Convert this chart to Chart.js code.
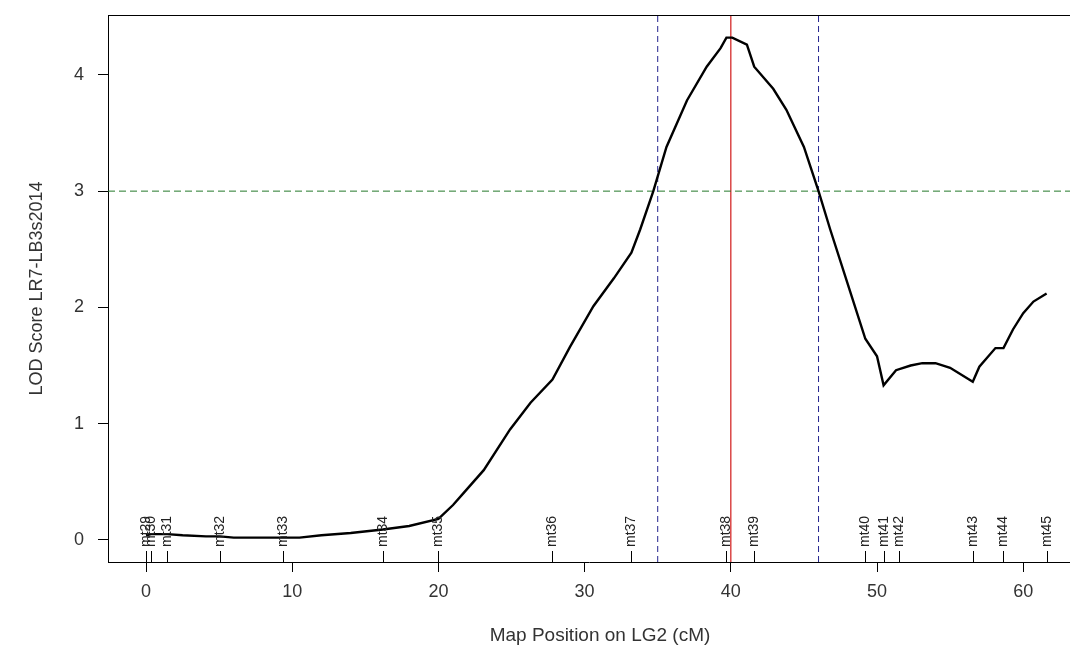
<!DOCTYPE html>
<html>
<head>
<meta charset="utf-8">
<script src="https://cdn.jsdelivr.net/npm/chart.js@4/dist/chart.umd.min.js"></script>
<style>
  html, body { margin: 0; padding: 0; background: #fff; overflow: hidden; }
  #wrap { width: 1070px; height: 645px; position: relative; }
</style>
</head>
<body>
<div id="wrap"><canvas id="lod"></canvas></div>
<script>
// LOD profile along LG2
const lodPos = [0, 0.35, 1.45, 2.5, 4.1, 5.05, 6, 8, 9.4, 10.5, 12, 14, 16.2, 18, 20.0, 21.0, 21.7,
  23.1, 24.9, 26.3, 27.8, 29.0, 30.6, 32.0, 33.2, 33.8, 34.7, 35.6, 37.0, 38.35, 39.3, 39.7,
  40.1, 41.1, 41.6, 42.9, 43.8, 45.0, 46.0, 46.8, 48.0, 49.2, 50.0, 50.45, 51.3, 52.3, 53.1,
  54.0, 55.0, 56.55, 57.0, 58.1, 58.65, 59.3, 60.0, 60.7, 61.6];
const lodScore = [0.04, 0.05, 0.05, 0.04, 0.03, 0.03, 0.02, 0.02, 0.02, 0.02, 0.04, 0.06, 0.09, 0.12, 0.18, 0.30, 0.40,
  0.60, 0.95, 1.18, 1.38, 1.66, 2.01, 2.25, 2.47, 2.67, 3.0, 3.38, 3.78, 4.07, 4.23, 4.32,
  4.32, 4.26, 4.07, 3.88, 3.70, 3.38, 3.0, 2.67, 2.2, 1.73, 1.58, 1.33, 1.46, 1.50, 1.52,
  1.52, 1.48, 1.36, 1.49, 1.65, 1.65, 1.81, 1.95, 2.05, 2.12];

// markers on the linkage group
const markerNames = ['mt29', 'mt30', 'mt31', 'mt32', 'mt33', 'mt34', 'mt35', 'mt36', 'mt37',
  'mt38', 'mt39', 'mt40', 'mt41', 'mt42', 'mt43', 'mt44', 'mt45'];
const markerPos = [0, 0.35, 1.45, 5.05, 9.4, 16.2, 20.0, 27.8, 33.2,
  39.7, 41.6, 49.2, 50.5, 51.5, 56.55, 58.65, 61.6];

const xTicks = [0, 10, 20, 30, 40, 50, 60];
const yTicks = [0, 1, 2, 3, 4];

const lodThreshold = 3;
const peakPos = 40;
const intervalPos = [35, 46];

const xMin = -2.6, xMax = 63.2;
const yMin = -0.19, yMax = 4.515;

const textColor = '#333';
const fontFamily = '"Liberation Sans", Arial, sans-serif';

const vline = (x) => [{ x: x, y: yMin }, { x: x, y: yMax }];

const datasets = [
  {
    data: lodPos.map((p, i) => ({ x: p, y: lodScore[i] })),
    borderColor: '#000',
    borderWidth: 2.4,
    pointRadius: 0,
    tension: 0
  },
  {
    data: [{ x: xMin, y: lodThreshold }, { x: xMax, y: lodThreshold }],
    borderColor: '#23782a',
    borderWidth: 1,
    borderDash: [7, 4],
    pointRadius: 0
  },
  {
    data: vline(peakPos),
    borderColor: '#d42a2a',
    borderWidth: 1.3,
    pointRadius: 0
  }
];
for (const p of intervalPos) {
  datasets.push({
    data: vline(p),
    borderColor: '#23238f',
    borderWidth: 1,
    borderDash: [6, 4],
    pointRadius: 0
  });
}

// box top edge, marker ticks + names, axis titles
const extras = {
  id: 'extras',
  afterDatasetsDraw(chart) {
    const ctx = chart.ctx;
    const area = chart.chartArea;
    const xs = chart.scales.x;
    ctx.save();
    ctx.strokeStyle = '#000';
    ctx.lineWidth = 1;
    ctx.beginPath();
    ctx.moveTo(area.left, area.top + 0.5);
    ctx.lineTo(area.right, area.top + 0.5);
    ctx.stroke();

    ctx.font = '14px ' + fontFamily;
    ctx.fillStyle = '#222';
    ctx.textAlign = 'left';
    ctx.textBaseline = 'middle';
    markerNames.forEach((name, i) => {
      const px = Math.round(xs.getPixelForValue(markerPos[i])) + 0.5;
      ctx.beginPath();
      ctx.moveTo(px, area.bottom - 11);
      ctx.lineTo(px, area.bottom);
      ctx.stroke();
      ctx.save();
      ctx.translate(px, area.bottom - 15);
      ctx.rotate(-Math.PI / 2);
      ctx.fillText(name, 0, 0);
      ctx.restore();
    });

    ctx.fillStyle = textColor;
    ctx.textAlign = 'center';
    ctx.font = '19px ' + fontFamily;
    ctx.fillText('Map Position on LG2 (cM)', 600, 636);
    ctx.save();
    ctx.translate(37, (area.top + area.bottom) / 2);
    ctx.rotate(-Math.PI / 2);
    ctx.font = '18px ' + fontFamily;
    ctx.fillText('LOD Score LR7-LB3s2014', 0, 0);
    ctx.restore();
    ctx.restore();
  }
};

new Chart(document.getElementById('lod'), {
  type: 'line',
  data: { datasets: datasets },
  options: {
    responsive: true,
    maintainAspectRatio: false,
    animation: false,
    layout: { padding: { top: 15, right: 0, left: 0, bottom: 0 } },
    plugins: { legend: { display: false }, tooltip: { enabled: false } },
    scales: {
      x: {
        type: 'linear',
        min: xMin,
        max: xMax,
        afterBuildTicks: (s) => { s.ticks = xTicks.map(v => ({ value: v })); },
        afterFit: (s) => { s.height = 83; s.paddingLeft = 0; s.paddingRight = 0; },
        grid: { drawOnChartArea: false, drawTicks: true, tickLength: 10, color: '#000' },
        border: { display: true, color: '#000', width: 1 },
        ticks: { color: textColor, padding: 9, maxRotation: 0, font: { size: 18, family: fontFamily } }
      },
      y: {
        type: 'linear',
        min: yMin,
        max: yMax,
        afterBuildTicks: (s) => { s.ticks = yTicks.map(v => ({ value: v })); },
        afterFit: (s) => { s.width = 108; s.paddingTop = 0; s.paddingBottom = 0; },
        grid: { drawOnChartArea: false, drawTicks: true, tickLength: 10, color: '#000' },
        border: { display: true, color: '#000', width: 1 },
        ticks: { color: textColor, padding: 14, font: { size: 18, family: fontFamily } }
      }
    }
  },
  plugins: [extras]
});
</script>
</body>
</html>
